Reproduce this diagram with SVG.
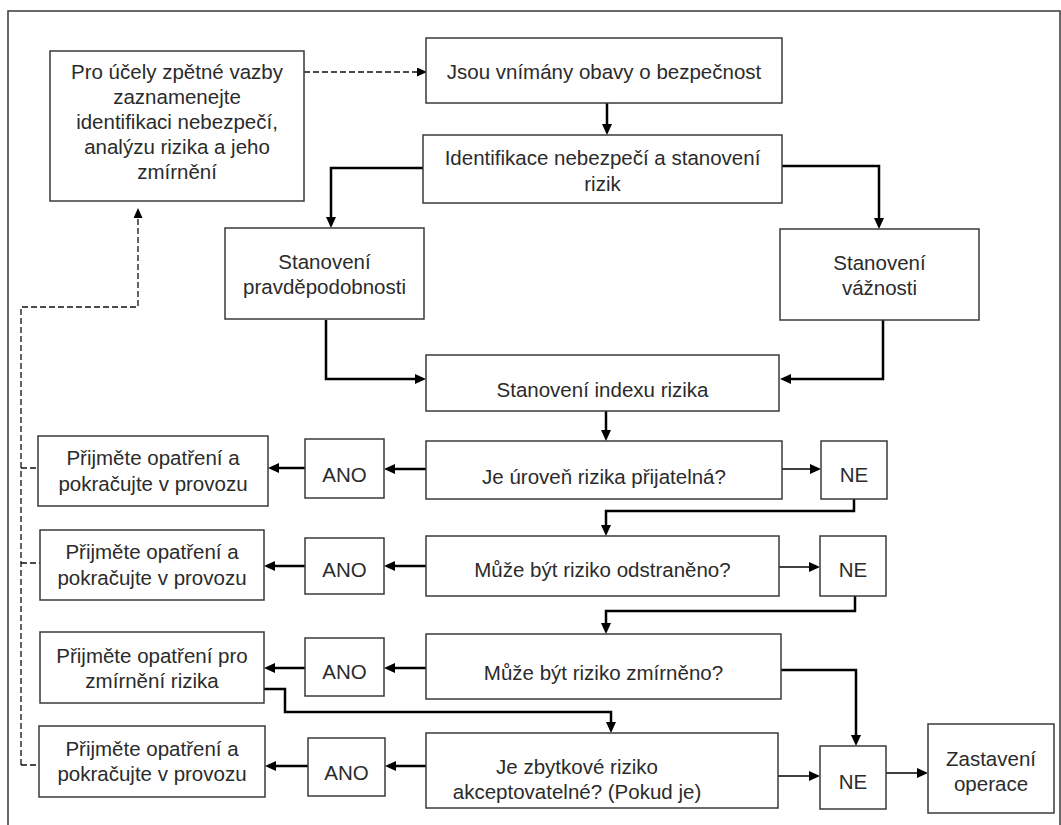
<svg xmlns="http://www.w3.org/2000/svg" width="1061" height="825" viewBox="0 0 1061 825">
  <style>
    .box { fill: #ffffff; stroke: #3a3a3a; stroke-width: 1.5; }
    .lbl { font-family: "Liberation Sans", Arial, sans-serif; font-size: 20.5px; fill: #2b2b2b; text-anchor: middle; }
    .thick { fill: none; stroke: #000; stroke-width: 2.5; marker-end: url(#arrow); }
    .thin { fill: none; stroke: #000; stroke-width: 1.5; marker-end: url(#arrow); }
    .dash { fill: none; stroke: #111; stroke-width: 1.3; stroke-dasharray: 6 3; }
    .dash-arrow { marker-end: url(#arrow-small); }
  </style>
  <defs>
    <marker id="arrow" viewBox="0 0 11 10" refX="5" refY="5" markerWidth="11" markerHeight="10" markerUnits="userSpaceOnUse" orient="auto">
      <path d="M0,0 L11,5 L0,10 z" fill="#000"/>
    </marker>
    <marker id="arrow-small" viewBox="0 0 10 9" refX="4" refY="4.5" markerWidth="10" markerHeight="9" markerUnits="userSpaceOnUse" orient="auto">
      <path d="M0,0 L10,4.5 L0,9 z" fill="#000"/>
    </marker>
  </defs>

  <rect width="1061" height="825" fill="#ffffff"/>
  <!-- outer frame -->
  <rect x="8" y="11" width="1052" height="830" fill="none" stroke="#444" stroke-width="1.6"/>

  <g id="connectors">
    <!-- main flow -->
    <path class="thick" d="M607,103 V129"/>
    <path class="thick" d="M423,168 H331 V222"/>
    <path class="thick" d="M782,166 H879 V223"/>
    <path class="thick" d="M326,320 V379 H420"/>
    <path class="thick" d="M883,320 V379 H786"/>
    <path class="thick" d="M606,411 V435"/>
    <!-- row 1 -->
    <path class="thick" d="M426,469 H390"/>
    <path class="thick" d="M305,468 H274"/>
    <path class="thin" d="M782,469 H815"/>
    <path class="thick" d="M854,499 V511 H606 V530"/>
    <!-- row 2 -->
    <path class="thick" d="M426,566 H390"/>
    <path class="thick" d="M305,566 H270"/>
    <path class="thin" d="M779,567 H814"/>
    <path class="thick" d="M855,596 V611 H606 V628"/>
    <!-- row 3 -->
    <path class="thick" d="M426,668 H390"/>
    <path class="thick" d="M305,668 H270"/>
    <path class="thick" d="M781,670 H856 V740"/>
    <path class="thick" d="M264,689 H285 V712 H611 V727"/>
    <!-- row 4 -->
    <path class="thick" d="M426,766 H391"/>
    <path class="thick" d="M308,766 H271"/>
    <path class="thin" d="M778,776 H814"/>
    <path class="thin" d="M886,773 H922"/>
    <!-- feedback loop -->
    <path class="dash dash-arrow" d="M304,72 H421"/>
    <path class="dash" d="M21,468 H38"/>
    <path class="dash" d="M21,563 H40"/>
    <path class="dash" d="M21,765 H39"/>
    <path class="dash dash-arrow" d="M21,765 V307 H138 V214"/>
  </g>

  <g id="n-feedback">
    <rect class="box" x="50" y="51" width="254" height="150"/>
    <text class="lbl" x="177" y="79">Pro účely zpětné vazby</text>
    <text class="lbl" x="177" y="104">zaznamenejte</text>
    <text class="lbl" x="177" y="129">identifikaci nebezpečí,</text>
    <text class="lbl" x="177" y="154">analýzu rizika a jeho</text>
    <text class="lbl" x="177" y="179">zmírnění</text>
  </g>

  <g id="n-concern">
    <rect class="box" x="426" y="38" width="356" height="65"/>
    <text class="lbl" x="604" y="79">Jsou vnímány obavy o bezpečnost</text>
  </g>

  <g id="n-identify">
    <rect class="box" x="423" y="135" width="359" height="68"/>
    <text class="lbl" x="602.5" y="165">Identifikace nebezpečí a stanovení</text>
    <text class="lbl" x="602.5" y="191">rizik</text>
  </g>

  <g id="n-probability">
    <rect class="box" x="225" y="228" width="199" height="91"/>
    <text class="lbl" x="324.5" y="269">Stanovení</text>
    <text class="lbl" x="324.5" y="294">pravděpodobnosti</text>
  </g>

  <g id="n-severity">
    <rect class="box" x="780" y="229" width="199" height="91"/>
    <text class="lbl" x="879.5" y="270">Stanovení</text>
    <text class="lbl" x="879.5" y="295">vážnosti</text>
  </g>

  <g id="n-index">
    <rect class="box" x="426" y="355" width="353" height="56"/>
    <text class="lbl" x="602.5" y="397">Stanovení indexu rizika</text>
  </g>

  <g id="n-q-acceptable">
    <rect class="box" x="426" y="441" width="356" height="58"/>
    <text class="lbl" x="604" y="484">Je úroveň rizika přijatelná?</text>
  </g>
  <g id="n-ano-1">
    <rect class="box" x="305" y="439" width="79" height="59"/>
    <text class="lbl" x="344.5" y="482">ANO</text>
  </g>
  <g id="n-ne-1">
    <rect class="box" x="821" y="441" width="66" height="58"/>
    <text class="lbl" x="854" y="482">NE</text>
  </g>
  <g id="n-action-1">
    <rect class="box" x="38" y="436" width="230" height="70"/>
    <text class="lbl" x="153" y="465">Přijměte opatření a</text>
    <text class="lbl" x="153" y="491">pokračujte v provozu</text>
  </g>

  <g id="n-q-eliminate">
    <rect class="box" x="426" y="536" width="353" height="60"/>
    <text class="lbl" x="602.5" y="577">Může být riziko odstraněno?</text>
  </g>
  <g id="n-ano-2">
    <rect class="box" x="305" y="538" width="79" height="56"/>
    <text class="lbl" x="344.5" y="577">ANO</text>
  </g>
  <g id="n-ne-2">
    <rect class="box" x="820" y="536" width="66" height="60"/>
    <text class="lbl" x="853" y="577">NE</text>
  </g>
  <g id="n-action-2">
    <rect class="box" x="40" y="530" width="224" height="70"/>
    <text class="lbl" x="152" y="559">Přijměte opatření a</text>
    <text class="lbl" x="152" y="585">pokračujte v provozu</text>
  </g>

  <g id="n-q-mitigate">
    <rect class="box" x="426" y="634" width="355" height="65"/>
    <text class="lbl" x="603.5" y="680">Může být riziko zmírněno?</text>
  </g>
  <g id="n-ano-3">
    <rect class="box" x="305" y="638" width="79" height="58"/>
    <text class="lbl" x="344.5" y="679">ANO</text>
  </g>
  <g id="n-action-3">
    <rect class="box" x="40" y="632" width="224" height="71"/>
    <text class="lbl" x="152" y="663">Přijměte opatření pro</text>
    <text class="lbl" x="152" y="688">zmírnění rizika</text>
  </g>

  <g id="n-q-residual">
    <rect class="box" x="426" y="733" width="352" height="75"/>
    <text class="lbl" x="577" y="774">Je zbytkové riziko</text>
    <text class="lbl" x="577" y="799">akceptovatelné? (Pokud je)</text>
  </g>
  <g id="n-ano-4">
    <rect class="box" x="308" y="738" width="77" height="58"/>
    <text class="lbl" x="346.5" y="780">ANO</text>
  </g>
  <g id="n-ne-4">
    <rect class="box" x="820" y="746" width="66" height="63"/>
    <text class="lbl" x="853" y="789">NE</text>
  </g>
  <g id="n-action-4">
    <rect class="box" x="39" y="726" width="226" height="71"/>
    <text class="lbl" x="152" y="756">Přijměte opatření a</text>
    <text class="lbl" x="152" y="781">pokračujte v provozu</text>
  </g>
  <g id="n-stop">
    <rect class="box" x="928" y="724" width="126" height="89"/>
    <text class="lbl" x="991" y="766">Zastavení</text>
    <text class="lbl" x="991" y="791">operace</text>
  </g>
</svg>
